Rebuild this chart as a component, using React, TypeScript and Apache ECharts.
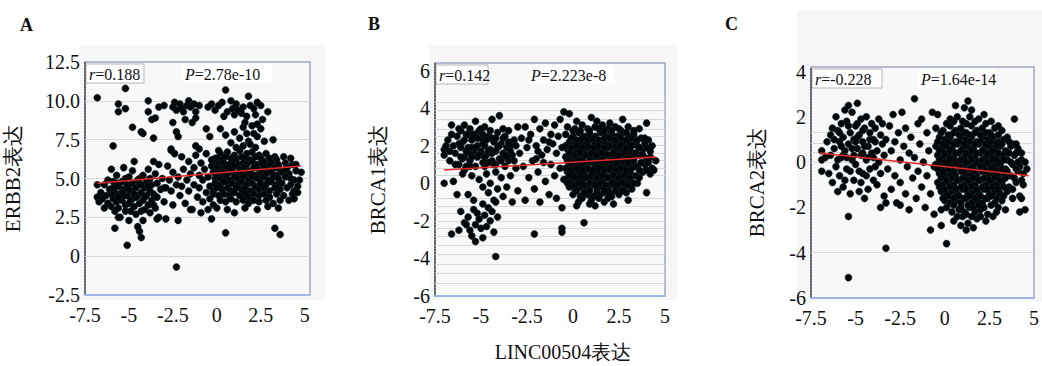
import React, { useEffect, useRef } from "react";
import * as echarts from "echarts";

// ---------- Panel A: LINC00504 vs ERBB2 ----------
const aUpper: number[][] = [[-6.8,10.2],[-5.2,10.8],[-5.6,9.8],[-5.6,9.3],[-5.2,9.5],[-4.8,8.3],[-4.3,8.0],[-4.2,7.9],[-3.9,10.0],[-3.9,9.3],[-3.7,8.8],[-3.5,8.9],[-3.3,9.6],[-3.0,9.7],[-3.6,7.6],[-5.9,7.1],[-2.5,9.6],[-2.4,9.9],[-2.3,9.4],[-2.1,9.8],[-2.0,9.5],[-1.9,9.3],[-1.7,9.7],[-1.6,10.0],[-1.5,9.6],[-1.3,9.8],[-1.2,9.3],[-1.0,9.7],[-2.5,8.6],[-2.3,8.0],[-2.2,7.7],[-1.8,8.8],[-1.4,8.6],[-1.2,8.9],[-0.5,9.6],[-0.3,9.8],[-0.1,9.4],[0.1,9.7],[0.3,9.9],[0.5,10.7],[0.6,9.3],[0.8,10.0],[0.9,9.5],[1.0,9.1],[1.1,9.8],[1.2,9.4],[1.4,9.2],[1.5,9.6],[1.7,9.0],[1.8,10.3],[1.9,9.7],[2.1,9.5],[2.3,9.9],[2.5,9.7],[2.2,9.1],[0.4,9.0],[0.2,8.2],[0.5,7.8],[-0.4,7.7],[-0.6,8.2],[1.0,8.0],[1.3,7.6],[1.5,8.3],[1.7,7.9],[1.8,7.4],[2.0,8.4],[2.1,7.9],[2.3,7.7],[2.5,8.2],[2.6,8.8],[2.9,9.3],[3.2,7.5],[1.5,7.1],[1.9,7.2],[2.2,7.0],[0.8,7.3],[1.1,7.0],[2.7,7.4],[1.6,8.6],[2.3,8.5],[-1.0,6.9],[-2.6,6.8]];
const aLeft: number[][] = [[-6.8,4.6],[-6.8,3.8],[-6.7,3.5],[-6.6,4.1],[-6.4,4.6],[-6.3,3.9],[-6.2,3.4],[-6.1,4.3],[-6.0,5.6],[-6.0,3.2],[-5.9,4.8],[-5.9,3.7],[-5.8,4.1],[-5.8,2.9],[-5.7,5.2],[-5.7,3.5],[-5.6,4.5],[-5.6,3.1],[-5.5,4.0],[-5.5,2.5],[-5.4,4.8],[-5.4,3.6],[-5.3,5.7],[-5.3,4.3],[-5.2,3.3],[-5.2,2.9],[-5.1,4.6],[-5.1,3.9],[-5.0,5.1],[-5.0,3.4],[-4.9,4.2],[-4.9,2.9],[-4.8,5.5],[-4.8,4.7],[-4.8,3.7],[-4.7,6.1],[-4.7,3.2],[-4.6,4.4],[-4.6,2.7],[-4.5,4.9],[-4.5,3.9],[-4.4,3.4],[-4.4,4.6],[-4.3,2.9],[-4.3,4.1],[-4.2,5.2],[-4.2,3.6],[-4.1,4.4],[-4.1,3.0],[-4.0,4.8],[-4.0,3.9],[-3.9,3.3],[-3.9,5.6],[-3.8,4.2],[-3.8,2.8],[-3.7,4.6],[-3.7,3.6],[-3.6,6.1],[-3.6,4.0],[-3.5,5.3],[-3.5,3.1],[-3.4,4.7],[-3.4,3.8],[-3.3,5.9],[-3.3,2.5],[-3.2,4.3],[-3.1,5.0],[-3.0,3.5],[-3.0,4.4],[-2.9,2.4],[-6.4,3.1],[-6.2,4.9],[-5.7,4.7],[-5.3,3.9],[-5.0,4.3],[-4.9,3.6],[-4.6,3.8],[-4.3,4.6],[-4.1,3.8],[-3.9,4.5],[-6.5,3.7],[-5.9,4.4],[-5.4,4.1],[-5.2,5.0],[-4.7,4.0],[-4.4,5.0],[-3.8,5.0],[-3.6,3.3],[-6.0,4.0],[-5.6,3.8]];
const aOutliers: number[][] = [[-5.1,0.7],[-4.3,1.2],[-4.4,1.6],[-5.8,1.8],[-2.3,-0.7],[0.5,1.5],[3.3,1.8],[3.6,1.4],[-5.0,2.3],[-4.2,2.3],[-2.2,2.3],[-0.3,2.4],[-5.6,2.5],[-3.4,2.4],[-4.5,1.9]];
const aMid: number[][] = [[-2.8,5.8],[-2.7,4.9],[-2.6,4.2],[-2.5,5.4],[-2.5,3.3],[-2.4,6.6],[-2.3,4.6],[-2.2,5.1],[-2.1,3.9],[-2.0,6.4],[-2.0,4.5],[-1.9,5.6],[-1.8,3.4],[-1.7,4.9],[-1.6,6.1],[-1.6,4.2],[-1.5,5.3],[-1.4,3.0],[-1.3,5.7],[-1.3,4.6],[-1.2,6.5],[-1.1,3.8],[-1.0,5.2],[-1.0,4.4],[-0.9,6.0],[-0.8,3.5],[-0.8,4.9],[-0.7,5.6],[-0.6,4.1],[-0.6,6.6],[-0.5,3.0],[-0.5,5.1],[-0.4,4.5],[-0.4,3.7],[-0.3,5.8],[-0.2,4.2],[-0.2,3.3],[-0.1,5.0],[-0.1,6.3],[-1.5,3.0],[-2.6,6.9],[-1.2,7.1],[-2.9,4.4],[-0.9,2.8]];
const aCluster: number[][] = [[0.2,6.6],[0.6,6.7],[1.0,6.5],[1.3,6.8],[1.7,6.6],[2.0,6.7],[2.4,6.5],[2.8,6.6],[3.3,6.4],
[0.0,6.3],[0.3,6.2],[0.5,6.4],[0.8,6.3],[1.1,6.2],[1.4,6.4],[1.6,6.3],[1.9,6.2],[2.2,6.4],[2.5,6.3],[2.7,6.1],[3.0,6.3],[3.4,6.2],[3.8,6.4],[4.2,6.3],
[-0.1,6.0],[0.2,5.9],[0.4,6.0],[0.7,5.9],[0.9,6.1],[1.2,5.9],[1.5,6.0],[1.7,5.9],[2.0,6.1],[2.3,5.9],[2.6,6.0],[2.9,5.8],[3.1,6.0],[3.5,5.9],[3.9,6.0],[4.3,5.9],
[0.0,5.7],[0.3,5.6],[0.5,5.7],[0.8,5.6],[1.0,5.8],[1.3,5.6],[1.6,5.7],[1.8,5.5],[2.1,5.7],[2.4,5.6],[2.7,5.7],[3.0,5.5],[3.3,5.7],[3.6,5.6],[4.0,5.7],[4.5,5.5],
[-0.2,5.4],[0.1,5.3],[0.4,5.4],[0.6,5.3],[0.9,5.4],[1.1,5.2],[1.4,5.4],[1.7,5.3],[1.9,5.4],[2.2,5.2],[2.5,5.4],[2.8,5.3],[3.1,5.4],[3.4,5.2],[3.7,5.4],[4.1,5.3],[4.8,5.4],
[0.0,5.1],[0.2,5.0],[0.5,5.1],[0.7,4.9],[1.0,5.1],[1.2,5.0],[1.5,5.1],[1.8,4.9],[2.0,5.1],[2.3,5.0],[2.6,5.1],[2.9,4.9],[3.2,5.1],[3.5,5.0],[3.9,5.1],[4.4,4.9],
[-0.1,4.7],[0.2,4.6],[0.4,4.8],[0.7,4.6],[0.9,4.7],[1.2,4.6],[1.4,4.8],[1.7,4.6],[2.0,4.7],[2.2,4.5],[2.5,4.7],[2.8,4.6],[3.1,4.8],[3.4,4.6],[3.7,4.7],[4.2,4.6],[4.6,4.5],
[0.0,4.4],[0.3,4.3],[0.6,4.4],[0.8,4.2],[1.1,4.4],[1.4,4.3],[1.6,4.4],[1.9,4.2],[2.2,4.4],[2.4,4.3],[2.7,4.4],[3.0,4.2],[3.3,4.4],[3.6,4.3],[4.0,4.4],[4.4,4.2],
[-0.2,4.0],[0.1,3.9],[0.4,4.0],[0.7,3.9],[1.0,4.1],[1.3,3.9],[1.6,4.0],[1.8,3.8],[2.1,4.0],[2.4,3.9],[2.7,4.0],[3.0,3.8],[3.4,4.0],[3.8,3.9],[4.3,4.0],
[0.2,3.6],[0.5,3.5],[0.8,3.7],[1.1,3.5],[1.5,3.6],[1.8,3.4],[2.1,3.6],[2.4,3.5],[2.8,3.6],[3.2,3.4],[3.6,3.6],
[0.0,3.1],[0.6,3.0],[1.0,2.8],[1.6,3.1],[2.3,3.0],[2.9,3.2],[3.5,3.1],[4.1,3.6],
[3.9,5.6],[4.2,5.0],[4.5,5.9],[4.7,4.9],[4.6,4.1],[4.4,3.7],[-0.3,6.2],[0.1,6.8]];
const aFit: number[][] = [[-6.8,4.7],[4.8,5.8]];
const aGridLines = [10, 7.5, 5, 2.5, 0];

// ---------- Panel B: LINC00504 vs BRCA1 ----------
const bLeft: number[][] = [[-7.0,1.8],[-7.0,1.5],[-7.0,0.0],[-6.8,2.3],[-6.7,1.2],[-6.6,3.1],[-6.5,2.0],[-6.5,0.1],[-6.4,1.6],[-6.3,2.5],[-6.3,-0.6],[-6.2,1.0],[-6.1,2.8],[-6.1,1.9],[-6.0,2.2],[-6.0,0.5],[-5.9,3.1],[-5.9,1.4],[-5.8,2.6],[-5.8,0.9],[-5.7,1.9],[-5.7,-0.6],[-5.6,2.9],[-5.6,1.2],[-5.5,2.3],[-5.5,0.4],[-5.4,1.7],[-5.4,-0.9],[-5.3,3.3],[-5.3,2.6],[-5.3,0.9],[-5.2,2.0],[-5.2,1.4],[-5.1,2.8],[-5.1,0.2],[-5.0,1.7],[-5.0,2.4],[-4.9,1.1],[-4.9,-0.2],[-4.8,2.0],[-4.8,3.0],[-4.7,1.5],[-4.7,0.5],[-4.6,2.5],[-4.6,-0.5],[-4.5,1.8],[-4.5,0.0],[-4.4,3.4],[-4.4,1.2],[-4.3,2.2],[-4.3,-0.9],[-4.2,0.6],[-4.2,1.7],[-4.1,2.7],[-4.1,-0.3],[-4.0,1.3],[-4.0,3.6],[-3.9,2.1],[-3.9,0.3],[-3.8,-0.7],[-3.8,1.6],[-3.7,2.5],[-3.7,0.9],[-3.6,1.9],[-3.6,-0.2],[-3.5,1.2],[-3.5,2.8],[-3.4,0.4],[-3.4,2.0],[-3.3,-1.0],[-3.3,1.5],[-3.2,2.3],[-3.1,0.8],[-3.0,3.0],[-3.0,-0.4],[-6.7,1.7],[-6.2,2.1],[-5.9,0.7],[-5.6,1.6],[-5.2,2.4],[-4.9,2.6],[-4.6,1.1],[-4.4,2.4],[-4.1,1.9],[-3.8,2.4],[-5.5,1.9],[-6.0,1.3],[-4.8,0.9],[-4.2,1.0],[-3.6,1.4]];
const bLeft2: number[][] = [[-6.9,2.0],[-6.6,2.6],[-6.4,1.0],[-6.2,2.9],[-6.1,1.4],[-5.9,2.3],[-5.8,1.7],[-5.7,2.6],[-5.6,0.9],[-5.5,1.4],[-5.4,2.6],[-5.3,1.9],[-5.1,1.5],[-5.0,2.9],[-4.9,2.1],[-4.8,1.4],[-4.7,2.3],[-4.6,1.7],[-4.5,2.8],[-4.4,1.6],[-4.3,1.0],[-4.2,2.4],[-4.0,2.0],[-3.9,1.2],[-3.8,2.9],[-3.7,1.5],[-3.5,2.2],[-3.4,1.7],[-3.2,1.2],[-3.1,2.0]];
const bLowTail: number[][] = [[-6.6,-2.7],[-6.2,-2.5],[-6.1,-1.5],[-5.9,-2.1],[-5.7,-1.8],[-5.6,-2.5],[-5.5,-2.8],[-5.4,-1.4],[-5.3,-3.1],[-5.3,-2.2],[-5.2,-1.6],[-5.1,-1.9],[-5.0,-2.4],[-4.9,-1.1],[-4.8,-1.7],[-4.7,-2.3],[-4.6,-1.3],[-4.5,-2.0],[-4.4,-1.5],[-4.3,-2.6],[-4.2,-3.9],[-4.1,-1.8],[-4.2,-1.0],[-2.1,-2.7],[-0.6,-2.4],[-0.6,-2.6],[0.6,-2.1],[-5.8,-2.2],[-4.9,-2.9]];
const bMid: number[][] = [[-2.9,1.6],[-2.8,2.4],[-2.7,0.9],[-2.6,3.0],[-2.6,-0.9],[-2.5,1.9],[-2.4,0.3],[-2.3,2.6],[-2.2,1.2],[-2.1,3.4],[-2.1,-0.3],[-2.0,2.0],[-1.9,0.6],[-1.8,2.9],[-1.8,-1.0],[-1.7,1.5],[-1.6,2.3],[-1.5,0.1],[-1.5,3.2],[-1.4,1.8],[-1.3,-0.6],[-1.2,2.6],[-1.2,1.0],[-1.1,2.1],[-1.0,0.4],[-1.0,3.1],[-0.9,1.6],[-0.9,-0.8],[-0.8,2.5],[-0.7,0.8],[-0.7,3.4],[-0.6,1.9],[-0.5,3.8],[-0.5,0.2],[-0.2,3.7],[-2.4,2.3],[-1.9,1.7],[-1.6,1.1],[-1.3,2.2],[-2.0,1.3]];
const bCluster: number[][] = [[0.2,3.3],[1.0,3.5],[1.3,3.3],[2.0,3.2],[2.7,3.4],[4.0,3.2],
[-0.3,3.0],[0.1,2.9],[0.5,3.1],[0.8,2.9],[1.2,3.0],[1.6,3.1],[1.9,2.9],[2.3,3.0],[2.6,2.8],[3.0,3.0],[3.6,2.9],
[-0.4,2.6],[0.0,2.5],[0.3,2.7],[0.6,2.5],[0.9,2.6],[1.2,2.5],[1.5,2.7],[1.8,2.5],[2.1,2.6],[2.4,2.5],[2.7,2.7],[3.0,2.5],[3.3,2.6],[3.7,2.4],[4.1,2.3],
[-0.2,2.2],[0.1,2.1],[0.4,2.2],[0.7,2.1],[1.0,2.3],[1.2,2.1],[1.5,2.2],[1.8,2.1],[2.0,2.3],[2.3,2.1],[2.6,2.2],[2.9,2.1],[3.2,2.2],[3.5,2.0],[3.9,2.1],[4.3,2.0],
[-0.3,1.8],[0.0,1.7],[0.3,1.8],[0.6,1.7],[0.8,1.9],[1.1,1.7],[1.4,1.8],[1.7,1.7],[1.9,1.9],[2.2,1.7],[2.5,1.8],[2.8,1.7],[3.1,1.8],[3.4,1.6],[3.8,1.8],[4.2,1.7],
[-0.4,1.4],[-0.1,1.3],[0.2,1.4],[0.5,1.3],[0.8,1.5],[1.0,1.3],[1.3,1.4],[1.6,1.3],[1.9,1.5],[2.1,1.3],[2.4,1.4],[2.7,1.3],[3.0,1.4],[3.3,1.3],[3.6,1.5],[4.0,1.3],[4.5,1.2],
[-0.2,1.0],[0.1,0.9],[0.4,1.0],[0.7,0.9],[0.9,1.1],[1.2,0.9],[1.5,1.0],[1.7,0.9],[2.0,1.1],[2.3,0.9],[2.6,1.0],[2.9,0.9],[3.2,1.0],[3.5,0.9],[3.9,1.0],[4.3,0.8],
[-0.3,0.6],[0.0,0.5],[0.3,0.6],[0.6,0.5],[0.9,0.7],[1.1,0.5],[1.4,0.6],[1.7,0.5],[2.0,0.7],[2.2,0.5],[2.5,0.6],[2.8,0.5],[3.1,0.6],[3.4,0.4],[3.8,0.6],[4.2,0.5],[4.4,0.7],
[-0.4,0.2],[-0.1,0.1],[0.2,0.2],[0.5,0.1],[0.8,0.3],[1.0,0.1],[1.3,0.2],[1.6,0.1],[1.9,0.3],[2.2,0.1],[2.5,0.2],[2.8,0.1],[3.1,0.2],[3.5,0.0],
[-0.2,-0.2],[0.1,-0.3],[0.4,-0.2],[0.7,-0.3],[1.0,-0.1],[1.3,-0.3],[1.6,-0.2],[1.9,-0.3],[2.2,-0.1],[2.5,-0.3],[2.8,-0.2],[3.2,-0.3],
[0.0,-0.6],[0.4,-0.7],[0.8,-0.6],[1.1,-0.7],[1.5,-0.6],[1.8,-0.5],[2.1,-0.7],[2.5,-0.6],[2.9,-0.5],[4.0,-0.5],
[0.3,-1.0],[0.9,-1.1],[1.2,-1.2],[1.7,-1.0],[2.2,-1.1],[3.0,-0.9],[-0.6,-1.3],[0.2,-1.2]];
const bCluster2: number[][] = [[0.0,2.8],[0.4,2.8],[0.9,2.8],[1.4,2.9],[1.7,2.8],[2.1,2.8],[2.5,2.9],[2.9,2.7],[3.3,2.8],
[-0.1,2.4],[0.2,2.3],[0.5,2.4],[0.8,2.3],[1.1,2.4],[1.4,2.3],[1.7,2.4],[2.0,2.4],[2.3,2.3],[2.6,2.4],[2.9,2.3],[3.2,2.4],[3.5,2.3],[3.9,2.4],
[-0.4,2.0],[-0.1,1.9],[0.2,2.0],[0.5,1.9],[0.8,2.0],[1.1,1.9],[1.4,2.0],[1.7,1.9],[2.0,2.0],[2.3,1.9],[2.6,2.0],[2.9,1.9],[3.2,2.0],[3.6,1.9],[4.0,1.9],
[-0.2,1.6],[0.1,1.5],[0.4,1.6],[0.7,1.5],[1.0,1.6],[1.3,1.5],[1.6,1.6],[1.9,1.5],[2.2,1.6],[2.5,1.5],[2.8,1.6],[3.1,1.5],[3.4,1.6],[3.8,1.5],[4.2,1.4],
[-0.3,1.2],[0.0,1.1],[0.3,1.2],[0.6,1.1],[0.9,1.2],[1.2,1.1],[1.5,1.2],[1.8,1.1],[2.1,1.2],[2.4,1.1],[2.7,1.2],[3.0,1.1],[3.3,1.2],[3.7,1.1],[4.1,1.1],
[-0.4,0.8],[-0.1,0.7],[0.2,0.8],[0.5,0.7],[0.8,0.8],[1.1,0.7],[1.4,0.8],[1.7,0.7],[2.0,0.8],[2.3,0.7],[2.6,0.8],[2.9,0.7],[3.2,0.8],[3.6,0.7],[4.0,0.7],
[-0.2,0.4],[0.1,0.3],[0.4,0.4],[0.7,0.3],[1.0,0.4],[1.3,0.3],[1.6,0.4],[1.9,0.3],[2.2,0.4],[2.5,0.3],[2.8,0.4],[3.1,0.3],[3.6,0.3],
[-0.3,0.0],[0.0,-0.1],[0.3,0.0],[0.6,-0.1],[0.9,0.0],[1.2,-0.1],[1.5,0.0],[1.8,-0.1],[2.1,0.0],[2.4,-0.1],[2.7,0.0],[3.0,-0.1],[3.3,0.0],
[0.2,-0.4],[0.6,-0.5],[0.9,-0.4],[1.3,-0.5],[1.7,-0.4],[2.0,-0.5],[2.3,-0.4],[2.7,-0.4],
[0.5,-0.8],[1.0,-0.9],[1.4,-0.8],[1.9,-0.8]];
const bFit: number[][] = [[-7.0,0.7],[4.5,1.4]];
const bGridLines = [4.3, 3.9, 3.4, 2.9, 2.5, 2.0, 1.6, 1.2, 0.8, 0.4, -0.8, -1.2, -1.6, -2.0, -2.4, -2.8, -3.3, -3.8, -4.3, -4.8, -5.3];

// ---------- Panel C: LINC00504 vs BRCA2 ----------
const cLeft: number[][] = [[-6.9,0.5],[-6.9,0.1],[-6.9,-0.4],[-6.7,0.2],[-6.6,0.9],[-6.5,-0.5],[-6.4,1.2],[-6.4,0.3],[-6.3,-0.9],[-6.2,0.6],[-6.1,2.0],[-6.1,-0.2],[-6.0,1.4],[-6.0,-1.3],[-5.9,0.9],[-5.9,-0.6],[-5.8,1.7],[-5.8,0.2],[-5.7,-1.1],[-5.7,1.1],[-5.6,2.3],[-5.6,0.5],[-5.5,-0.3],[-5.5,1.8],[-5.4,2.5],[-5.4,0.8],[-5.3,-1.4],[-5.3,1.3],[-5.2,0.1],[-5.2,2.2],[-5.1,-0.8],[-5.1,1.0],[-5.0,1.6],[-5.0,-0.1],[-4.9,2.6],[-4.9,0.6],[-4.8,-1.3],[-4.8,1.2],[-4.7,0.3],[-4.7,1.9],[-4.6,-0.5],[-4.6,0.9],[-4.5,-1.6],[-4.5,1.5],[-4.4,0.1],[-4.4,2.0],[-4.3,-1.2],[-4.3,0.7],[-4.2,1.3],[-4.2,-0.3],[-4.1,0.4],[-4.1,1.7],[-4.0,-0.8],[-4.0,1.0],[-3.9,-0.2],[-3.9,1.5],[-3.8,0.5],[-3.8,-1.0],[-3.7,1.9],[-3.7,0.0],[-3.6,1.2],[-3.6,-0.5],[-3.5,0.8],[-3.5,1.7],[-3.4,-1.5],[-3.4,0.3],[-3.3,1.0],[-6.3,1.5],[-5.8,0.7],[-5.5,0.2],[-5.2,0.6],[-4.9,1.1],[-4.6,0.4],[-4.3,0.2],[-4.0,0.2],[-5.6,-0.8],[-6.0,0.1],[-4.8,-0.4],[-5.3,-0.4],[-4.4,-0.6],
[-6.2,1.0],[-5.9,1.3],[-5.7,0.3],[-5.4,1.6],[-5.1,0.3],[-4.9,1.7],[-4.7,-0.9],[-4.5,0.7],[-4.2,1.0],[-3.9,0.9],[-5.0,0.9],[-4.6,1.4]];
const cMid: number[][] = [[-3.2,-0.3],[-3.1,1.6],[-3.0,0.5],[-3.0,-1.2],[-2.9,2.1],[-2.8,-0.6],[-2.8,0.9],[-2.7,-1.8],[-2.6,1.3],[-2.5,0.1],[-2.5,-0.9],[-2.4,2.2],[-2.3,0.7],[-2.2,-1.4],[-2.2,1.5],[-2.1,-0.2],[-2.0,0.4],[-2.0,-2.1],[-1.9,1.1],[-1.8,-0.7],[-1.7,2.8],[-1.7,0.2],[-1.6,-1.6],[-1.5,1.7],[-1.5,-0.4],[-1.4,0.8],[-1.3,-1.1],[-1.3,1.9],[-1.2,0.0],[-1.1,-2.0],[-1.0,1.3],[-1.0,-0.6],[-0.9,0.5],[-0.8,-3.0],[-0.8,-1.4],[-0.7,2.2],[-0.6,-0.2],[-0.6,-2.3],[-0.2,-2.8],[0.1,-3.6],[-3.3,-3.8],[-5.4,-5.1],[-5.4,-2.4],[-3.6,-2.0],[-3.3,-1.8],[-2.5,-1.9]];
const cCluster: number[][] = [[0.6,2.5],[1.3,2.7],[1.5,2.3],[1.1,2.4],
[-0.4,2.1],[0.3,1.9],[0.7,2.0],[1.0,1.8],[1.4,2.0],[1.9,1.9],[2.2,2.1],[2.6,1.8],[3.9,1.9],
[-0.5,1.5],[-0.1,1.4],[0.3,1.6],[0.6,1.4],[0.9,1.5],[1.2,1.3],[1.5,1.6],[1.8,1.4],[2.1,1.5],[2.5,1.3],[2.8,1.5],[3.2,1.4],
[-0.3,1.1],[0.0,1.0],[0.3,1.1],[0.6,0.9],[0.9,1.1],[1.2,1.0],[1.5,1.1],[1.8,0.9],[2.1,1.1],[2.4,1.0],[2.7,1.1],[3.0,0.9],[3.3,1.0],[3.8,0.8],
[-0.5,0.7],[-0.2,0.6],[0.1,0.7],[0.4,0.6],[0.7,0.8],[1.0,0.6],[1.3,0.7],[1.6,0.6],[1.9,0.8],[2.2,0.6],[2.5,0.7],[2.8,0.6],[3.1,0.7],[3.4,0.5],[3.7,0.7],[4.1,0.6],[4.3,0.4],
[-0.4,0.3],[-0.1,0.2],[0.2,0.3],[0.5,0.2],[0.8,0.4],[1.1,0.2],[1.4,0.3],[1.7,0.2],[2.0,0.4],[2.3,0.2],[2.6,0.3],[2.9,0.2],[3.2,0.3],[3.5,0.1],[3.9,0.3],[4.3,0.1],
[-0.5,-0.1],[-0.2,-0.2],[0.1,-0.1],[0.4,-0.2],[0.7,0.0],[1.0,-0.2],[1.3,-0.1],[1.6,-0.2],[1.9,0.0],[2.2,-0.2],[2.5,-0.1],[2.8,-0.2],[3.1,-0.1],[3.4,-0.3],[3.8,-0.1],[4.2,-0.2],[4.6,-0.3],
[-0.3,-0.5],[0.0,-0.6],[0.3,-0.5],[0.6,-0.6],[0.9,-0.4],[1.2,-0.6],[1.5,-0.5],[1.8,-0.6],[2.1,-0.4],[2.4,-0.6],[2.7,-0.5],[3.0,-0.6],[3.3,-0.5],[3.7,-0.6],[4.1,-0.4],
[-0.4,-0.9],[-0.1,-1.0],[0.2,-0.9],[0.5,-1.0],[0.8,-0.8],[1.1,-1.0],[1.4,-0.9],[1.7,-1.0],[2.0,-0.8],[2.3,-1.0],[2.6,-0.9],[2.9,-1.0],[3.2,-0.9],[3.6,-1.1],[4.0,-0.9],[4.4,-1.0],
[-0.2,-1.3],[0.1,-1.4],[0.4,-1.3],[0.7,-1.4],[1.0,-1.2],[1.3,-1.4],[1.6,-1.3],[1.9,-1.4],[2.2,-1.2],[2.5,-1.4],[2.8,-1.3],[3.1,-1.4],[3.5,-1.3],[4.2,-1.5],
[0.0,-1.7],[0.3,-1.8],[0.6,-1.7],[0.9,-1.8],[1.2,-1.6],[1.5,-1.8],[1.8,-1.7],[2.1,-1.8],[2.4,-1.6],[2.8,-1.8],[3.2,-1.7],[4.3,-1.6],[4.5,-2.1],
[-0.2,-2.1],[0.4,-2.2],[0.8,-2.1],[1.1,-2.2],[1.4,-2.0],[1.7,-2.2],[2.0,-2.1],[2.4,-2.3],[2.9,-2.2],[3.4,-2.1],[4.2,-2.2],
[0.5,-2.6],[1.0,-2.4],[1.3,-2.7],[1.8,-2.5],[2.3,-2.6],[1.6,-2.9],[1.2,-3.0],[0.9,-2.8]];
const cCluster2: number[][] = [[0.1,1.7],[0.5,1.8],[1.2,1.7],[1.7,1.8],[2.3,1.7],[3.0,1.6],
[-0.2,1.3],[0.2,1.2],[0.5,1.3],[0.8,1.2],[1.1,1.3],[1.4,1.2],[1.7,1.3],[2.0,1.2],[2.3,1.3],[2.6,1.2],[3.0,1.2],[3.5,1.1],
[-0.4,0.9],[-0.1,0.8],[0.2,0.9],[0.5,0.8],[0.8,0.9],[1.1,0.8],[1.4,0.9],[1.7,0.8],[2.0,0.9],[2.3,0.8],[2.6,0.9],[2.9,0.8],[3.2,0.8],[3.6,0.9],[4.0,0.8],
[-0.3,0.5],[0.0,0.4],[0.3,0.5],[0.6,0.4],[0.9,0.5],[1.2,0.4],[1.5,0.5],[1.8,0.4],[2.1,0.5],[2.4,0.4],[2.7,0.5],[3.0,0.4],[3.3,0.3],[3.6,0.4],[4.0,0.4],
[-0.3,0.1],[0.0,0.0],[0.3,0.1],[0.6,0.0],[0.9,0.1],[1.2,0.0],[1.5,0.1],[1.8,0.0],[2.1,0.1],[2.4,0.0],[2.7,0.1],[3.0,0.0],[3.3,0.1],[3.7,0.0],[4.1,0.0],[4.5,0.0],
[-0.4,-0.3],[-0.1,-0.4],[0.2,-0.3],[0.5,-0.4],[0.8,-0.2],[1.1,-0.4],[1.4,-0.3],[1.7,-0.4],[2.0,-0.2],[2.3,-0.4],[2.6,-0.3],[2.9,-0.4],[3.2,-0.3],[3.5,-0.4],[4.0,-0.3],[4.4,-0.5],
[-0.2,-0.7],[0.1,-0.8],[0.4,-0.7],[0.7,-0.8],[1.0,-0.7],[1.3,-0.8],[1.6,-0.7],[1.9,-0.8],[2.2,-0.7],[2.5,-0.8],[2.8,-0.7],[3.1,-0.8],[3.4,-0.7],[3.9,-0.7],[4.3,-0.8],
[-0.3,-1.1],[0.0,-1.2],[0.3,-1.1],[0.6,-1.2],[0.9,-1.1],[1.2,-1.2],[1.5,-1.1],[1.8,-1.2],[2.1,-1.1],[2.4,-1.2],[2.7,-1.1],[3.0,-1.2],[3.3,-1.1],[3.8,-1.2],
[-0.1,-1.6],[0.2,-1.5],[0.5,-1.6],[0.8,-1.5],[1.1,-1.6],[1.4,-1.5],[1.7,-1.6],[2.0,-1.5],[2.3,-1.6],[2.6,-1.5],[2.9,-1.6],[3.3,-1.5],[3.8,-1.6],
[0.1,-2.0],[0.5,-1.9],[0.9,-2.0],[1.3,-1.9],[1.6,-2.0],[1.9,-1.9],[2.2,-2.0],[2.6,-1.9],[3.0,-2.0],
[0.7,-2.4],[1.2,-2.3],[1.5,-2.4],[2.0,-2.4],[2.7,-2.4]];
const cFit: number[][] = [[-7.0,0.4],[4.7,-0.6]];
const cGridLines = [1.3, 0.85, 0.45, 0, -4];

// ---------- texts ----------
const panelLetters = ["A", "B", "C"];
const yNames = ["ERBB2表达", "BRCA1表达", "BRCA2表达"];
const rTexts = ["0.188", "0.142", "-0.228"];
const pTexts = ["2.78e-10", "2.223e-8", "1.64e-14"];
const xName = "LINC00504表达";

const SERIF = "Liberation Serif";

export default function App() {
  const ref = useRef<HTMLDivElement>(null);
  useEffect(() => {
    document.body.style.margin = "0";
    const chart = echarts.init(ref.current!, null, { renderer: "svg" });

    const grids = [
      { left: 85, top: 62, width: 225, height: 233 },
      { left: 435, top: 63, width: 230, height: 233 },
      { left: 811, top: 67, width: 229, height: 231 },
    ];
    const panelBg = [
      { x: 80, y: 45, width: 245, height: 255 },
      { x: 430, y: 45, width: 247, height: 255 },
      { x: 797, y: 10, width: 245, height: 292 },
    ];
    const xRanges = [[-7.5, 5.3], [-7.5, 5], [-7.5, 5]];
    const yRanges = [[-2.5, 12.5], [-6, 6.4], [-6, 4.2]];
    const yIntervals = [2.5, 2, 2];
    const nameGaps = [62, 47, 44];
    const points = [
      [...aLeft, ...aMid, ...aUpper, ...aOutliers, ...aCluster],
      [...bLeft, ...bLeft2, ...bLowTail, ...bMid, ...bCluster, ...bCluster2],
      [...cLeft, ...cMid, ...cCluster, ...cCluster2],
    ];
    const fits = [aFit, bFit, cFit];
    const gridLines = [aGridLines, bGridLines, cGridLines];

    const isMult = (v: number, step: number) => Math.abs(v / step - Math.round(v / step)) < 1e-6;

    const option: any = {
      animation: false,
      backgroundColor: "#ffffff",
      textStyle: { fontFamily: SERIF, color: "#111" },
      grid: grids.map((g) => ({
        ...g,
        show: true,
        backgroundColor: "#f8f8f8",
        borderColor: "#9ea8c4",
        borderWidth: 1.5,
      })),
      xAxis: grids.map((_, i) => ({
        type: "value",
        gridIndex: i,
        min: xRanges[i][0],
        max: xRanges[i][1],
        interval: 2.5,
        axisLine: { onZero: false, lineStyle: { color: "#9fb6e6", width: 2 } },
        axisTick: { show: false },
        splitLine: { show: false },
        axisLabel: {
          color: "#111",
          fontFamily: SERIF,
          fontSize: 20,
          margin: 10,
          formatter: (v: number) => (isMult(v, 2.5) ? String(v) : ""),
        },
      })),
      yAxis: grids.map((_, i) => ({
        type: "value",
        gridIndex: i,
        min: yRanges[i][0],
        max: yRanges[i][1],
        interval: yIntervals[i],
        name: yNames[i],
        nameLocation: "middle",
        nameGap: nameGaps[i],
        nameTextStyle: { color: "#111", fontFamily: SERIF, fontSize: 21 },
        axisLine: { onZero: false, lineStyle: { color: "#444", width: 1.5, type: "dotted" } },
        axisTick: { show: false },
        splitLine: { show: false },
        axisLabel: {
          color: "#111",
          fontFamily: SERIF,
          fontSize: 20,
          margin: 5,
          formatter: (v: number) => {
            if (!isMult(v, yIntervals[i])) return "";
            if (i === 0) return v === 0 ? "0" : v.toFixed(1);
            return String(v);
          },
        },
      })),
      series: [
        ...grids.map((_, i) => ({
          type: "line",
          xAxisIndex: i,
          yAxisIndex: i,
          data: [],
          silent: true,
          z: 1,
          markLine: {
            silent: true,
            z: 1,
            symbol: "none",
            label: { show: false },
            lineStyle: { color: "#d9d9d9", width: 1, type: "solid" },
            data: gridLines[i].map((y) => ({ yAxis: y })),
          },
        })),
        ...grids.map((_, i) => ({
          type: "scatter",
          xAxisIndex: i,
          yAxisIndex: i,
          data: points[i],
          symbol: "circle",
          symbolSize: 7,
          itemStyle: { color: "#050505", opacity: 1, borderColor: "#0d2a3a", borderWidth: 0.5 },
          silent: true,
          z: 3,
        })),
        ...grids.map((_, i) => ({
          type: "line",
          xAxisIndex: i,
          yAxisIndex: i,
          data: fits[i],
          symbol: "none",
          lineStyle: { color: "#e52a2a", width: 1.5 },
          silent: true,
          z: 4,
        })),
      ],
      graphic: [
        ...panelBg.map((r) => ({
          type: "rect",
          z: -10,
          silent: true,
          shape: r,
          style: { fill: "#f6f6f6" },
        })),
        ...panelLetters.map((t, i) => ({
          type: "text",
          left: [20, 368, 725][i],
          top: [16, 15, 15][i],
          z: 100,
          style: { text: t, fontFamily: SERIF, fontWeight: "bold", fontSize: 18, fill: "#111" },
        })),
        ...grids.map((g, i) => {
          const rW = [58, 52, 70][i];
          const pX = [182, 528, 918][i];
          const pW = [90, 87, 78][i];
          const cy = g.top + 12;
          return {
            type: "group",
            z: 100,
            children: [
              { type: "rect", shape: { x: g.left + 1, y: g.top + 2, width: rW, height: 19 }, style: { fill: "#ffffff", stroke: "#b5b5b5", lineWidth: 1 } },
              { type: "rect", shape: { x: pX, y: g.top + 2, width: pW, height: 19 }, style: { fill: "#ffffff" } },
              {
                type: "text",
                x: g.left + 4,
                y: cy,
                style: {
                  text: "{i|r}=" + rTexts[i],
                  fontFamily: SERIF,
                  fontSize: 16,
                  fill: "#111",
                  verticalAlign: "middle",
                  rich: { i: { fontStyle: "italic", fontFamily: SERIF, fontSize: 16, fill: "#111" } },
                },
              },
              {
                type: "text",
                x: pX + 3,
                y: cy,
                style: {
                  text: "{i|P}=" + pTexts[i],
                  fontFamily: SERIF,
                  fontSize: 16,
                  fill: "#111",
                  verticalAlign: "middle",
                  rich: { i: { fontStyle: "italic", fontFamily: SERIF, fontSize: 16, fill: "#111" } },
                },
              },
            ],
          };
        }),
        {
          type: "text",
          x: 563,
          y: 352,
          z: 100,
          style: { text: xName, fontFamily: SERIF, fontSize: 20, fill: "#111", align: "center", verticalAlign: "middle" },
        },
      ],
    };
    chart.setOption(option);
    return () => chart.dispose();
  }, []);
  return <div ref={ref} style={{ width: 1042, height: 366 }} />;
}
